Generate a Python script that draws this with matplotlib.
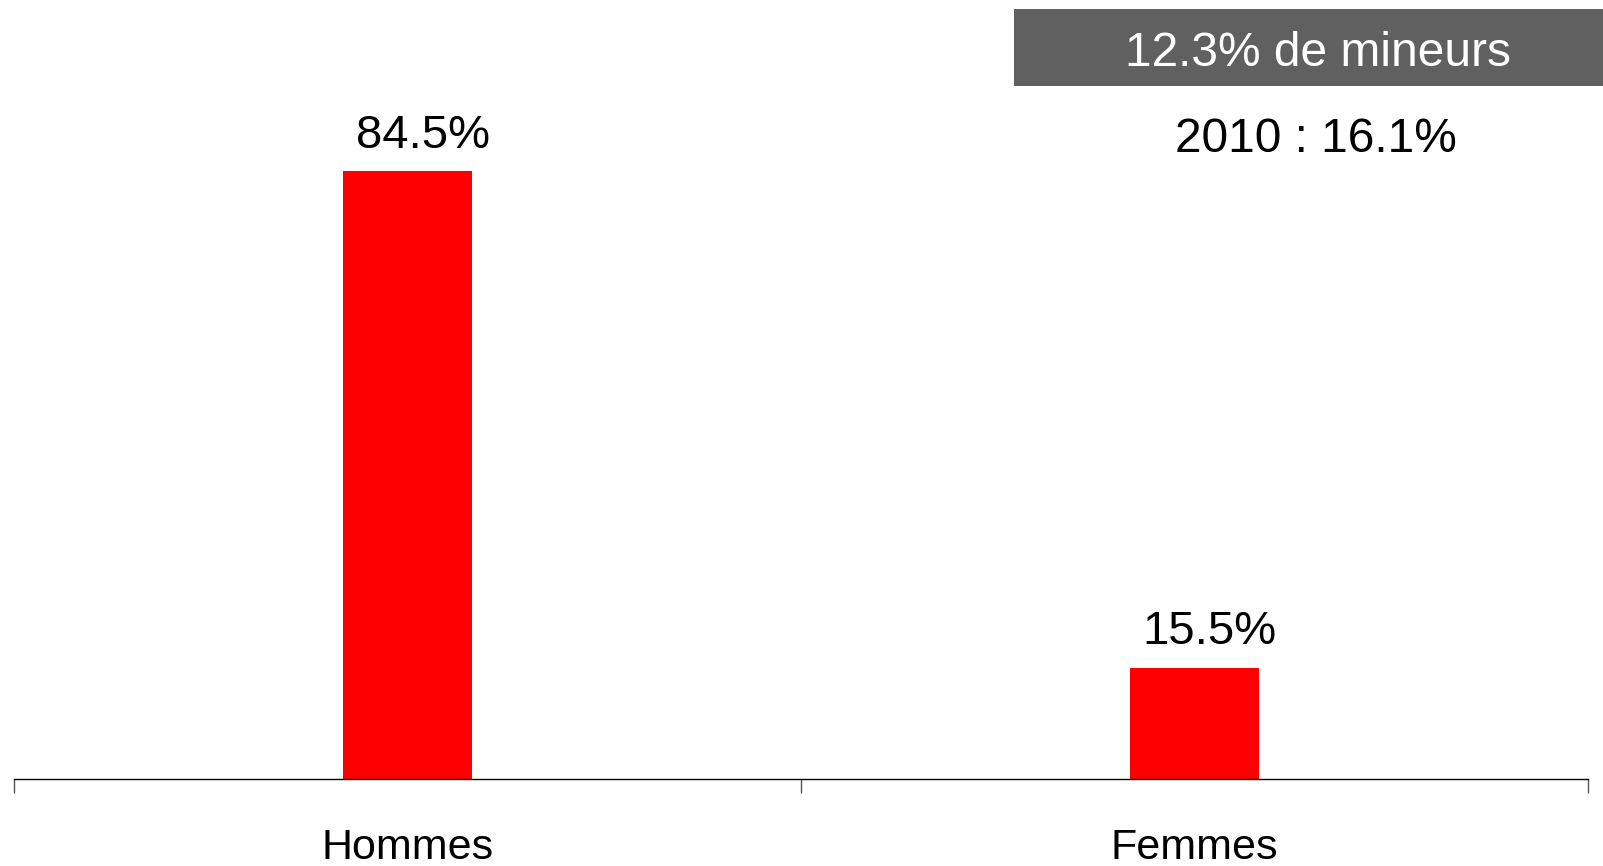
import matplotlib
matplotlib.use("Agg")
import matplotlib.pyplot as plt
from matplotlib.patches import Rectangle

# data
categories = ["Hommes", "Femmes"]
values = [84.5, 15.5]
value_labels = ["84.5%", "15.5%"]
box_text = "12.3% de mineurs"
note_text = "2010 : 16.1%"

plt.rcParams["font.family"] = ["Liberation Sans", "DejaVu Sans"]

W, H = 1603, 866
fig = plt.figure(figsize=(W / 100, H / 100), dpi=100)
ax = fig.add_axes([14 / W, 87 / H, (1588 - 14) / W, 779 / H])

x = list(range(len(categories)))
bars = ax.bar(x, values, width=0.165, color="#ff0000")

ax.set_xlim(-0.5, len(categories) - 0.5)
ax.set_ylim(0, 108.3)

for sp in ["top", "right", "left"]:
    ax.spines[sp].set_visible(False)
ax.spines["bottom"].set_linewidth(1.0)
ax.set_yticks([])

# boundary ticks (no labels) and category labels on minor ticks
ax.set_xticks([i - 0.5 for i in range(len(categories) + 1)])
ax.set_xticklabels([])
ax.tick_params(axis="x", which="major", direction="out", length=10,
               width=1.0, color="#555555")
ax.set_xticks(x, minor=True)
ax.set_xticklabels(categories, minor=True, fontsize=31)
ax.tick_params(axis="x", which="minor", length=0, pad=35)

for b, lab in zip(bars, value_labels):
    ax.annotate(lab, (b.get_x() + b.get_width() / 2, b.get_height()),
                xytext=(11, 17), textcoords="offset points",
                ha="center", va="baseline", fontsize=34)

# grey box at top right
fig.patches.append(Rectangle((1014 / W, 1 - 86 / H), (W - 1014) / W, 77 / H,
                             transform=fig.transFigure, facecolor="#606060",
                             edgecolor="none"))
fig.text(1318 / W, 1 - 53 / H, box_text, color="white", fontsize=34.5,
         ha="center", va="center")
fig.text(1316 / W, 1 - 139 / H, note_text, color="black", fontsize=34.5,
         ha="center", va="center")

fig.savefig("out.png", dpi=100)
